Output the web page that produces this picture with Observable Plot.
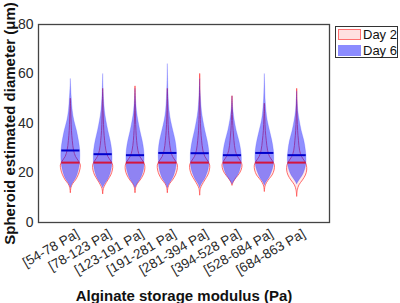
<!DOCTYPE html>
<html>
<head>
<meta charset="utf-8">
<script src="https://cdn.jsdelivr.net/npm/d3@7"></script>
<script src="https://cdn.jsdelivr.net/npm/@observablehq/plot@0.6"></script>
<style>
  html, body { margin: 0; padding: 0; background: #fff; }
  #wrap { position: relative; width: 400px; height: 303px; font-family: "Liberation Sans", Arial, sans-serif; }
  #wrap svg { position: absolute; left: 0; top: 0; }
  g[aria-label="y-axis label"] text, g[aria-label="x-axis label"] text { font-weight: bold; fill: #111; font-size: 15px; }
  #legend { position: absolute; left: 335px; top: 26px; width: 63px; height: 32px; border: 1px solid #333; background: #fff; box-sizing: border-box; font-size: 13px; color: #111; white-space: nowrap; }
  .row { position: absolute; left: 2px; height: 12px; display: flex; align-items: center; white-space: nowrap; }
  .sw { width: 23px; height: 11px; box-sizing: border-box; margin-right: 2px; flex: none; }
</style>
</head>
<body>
<div id="wrap"></div>
<script>
const categories = ["[54-78 Pa]", "[78-123 Pa]", "[123-191 Pa]", "[191-281 Pa]", "[281-394 Pa]", "[394-528 Pa]", "[528-684 Pa]", "[684-863 Pa]"];
const yTicks = [0, 20, 40, 60, 80];
const seriesNames = ["Day 2", "Day 6"];

// mean lines (µm)
const day2Means = [24.2, 24.2, 24.2, 24.2, 24.2, 24.2, 24.2, 24.2];
const day6Means = [29.1, 27.6, 27.2, 28.1, 28.0, 27.2, 28.1, 27.2];

// violin profiles: [diameter µm, half-width (density, in category units)]
const day2Profiles = [
  [[12,0],[14,0.02],[15.5,0.07],[17,0.16],[19.3,0.25],[21,0.29],[23,0.31],[24.5,0.26],[26.5,0.16],[29,0.1],[33,0.06],[37,0.035],[42,0.02],[46,0.01],[50,0]],
  [[11.5,0],[13.5,0.02],[15,0.07],[17,0.16],[19,0.25],[21,0.3],[23,0.31],[24.5,0.26],[26.5,0.16],[29,0.1],[33,0.06],[37,0.035],[42,0.02],[48,0.01],[54,0]],
  [[12,0],[14,0.02],[15.5,0.07],[17,0.16],[19,0.25],[21,0.3],[23,0.3],[24.5,0.25],[26.5,0.15],[29,0.09],[33,0.05],[37,0.03],[42,0.015],[48,0.008],[55,0]],
  [[12,0],[14,0.02],[15.5,0.07],[17,0.16],[19,0.25],[21,0.3],[23,0.31],[24.5,0.26],[26.5,0.16],[29,0.1],[33,0.06],[37,0.035],[42,0.018],[48,0.009],[54,0]],
  [[11,0],[13.5,0.02],[15,0.07],[17,0.16],[19,0.25],[21,0.3],[23,0.31],[24.5,0.26],[26.5,0.16],[29,0.1],[33,0.06],[37,0.035],[43,0.018],[51,0.008],[60,0]],
  [[15,0],[16.5,0.05],[18,0.13],[19.5,0.22],[21,0.28],[23,0.31],[24.5,0.27],[26.5,0.17],[29,0.1],[33,0.06],[37,0.035],[41,0.018],[46,0.008],[51,0]],
  [[12.5,0],[14.5,0.02],[16,0.07],[17.5,0.15],[19,0.24],[21,0.3],[23,0.31],[24.5,0.26],[26.5,0.16],[29,0.1],[33,0.06],[37,0.03],[42,0.015],[48,0]],
  [[10.5,0],[13,0.02],[15,0.07],[17,0.18],[19,0.27],[21,0.31],[23,0.3],[24.5,0.25],[26.5,0.15],[29,0.09],[33,0.055],[37,0.03],[42,0.015],[48,0.008],[54,0]]
];
const day6Profiles = [
  [[14,0],[15.5,0.05],[17.3,0.14],[19,0.2],[21.3,0.25],[25,0.29],[29,0.29],[33,0.25],[37,0.19],[41,0.11],[45,0.06],[50,0.03],[54,0.012],[58,0]],
  [[14,0],[15.5,0.06],[17.3,0.15],[19,0.21],[21.3,0.26],[25,0.29],[29,0.28],[33,0.23],[37,0.16],[41,0.1],[45,0.055],[50,0.025],[55,0.01],[60,0]],
  [[14,0],[15.5,0.06],[17.3,0.15],[19,0.21],[21.3,0.26],[25,0.28],[29,0.27],[33,0.22],[37,0.15],[41,0.09],[45,0.045],[50,0.015],[54,0]],
  [[14,0],[15.5,0.05],[17.3,0.14],[19,0.2],[21.3,0.25],[25,0.28],[29,0.28],[33,0.24],[37,0.17],[41,0.1],[45,0.055],[50,0.028],[56,0.012],[64,0]],
  [[14,0],[15.5,0.05],[17.3,0.14],[19,0.2],[21.3,0.26],[25,0.29],[29,0.28],[33,0.23],[37,0.16],[41,0.1],[45,0.055],[50,0.025],[54,0.01],[58,0]],
  [[15.5,0],[17,0.07],[18.5,0.15],[20,0.21],[22,0.26],[25,0.29],[29,0.27],[33,0.21],[37,0.13],[41,0.07],[45,0.03],[48,0.012],[51,0]],
  [[15,0],[16.5,0.06],[18,0.14],[20,0.21],[22,0.26],[25,0.29],[29,0.28],[33,0.23],[37,0.16],[41,0.09],[45,0.05],[50,0.022],[55,0.01],[60,0]],
  [[15.5,0],[17,0.07],[18.5,0.15],[20,0.21],[22,0.26],[25,0.29],[29,0.27],[33,0.22],[37,0.14],[41,0.08],[45,0.035],[49,0.014],[53,0]]
];

function rows(profiles) {
  return profiles.flatMap((p, i) => p.map(([y, w]) => ({cat: i + 1, y, x1: i + 1 - w, x2: i + 1 + w})));
}
const d2 = rows(day2Profiles);
const d6 = rows(day6Profiles);
const m2 = day2Means.map((v, i) => ({cat: i + 1, y: v}));
const m6 = day6Means.map((v, i) => ({cat: i + 1, y: v}));

const chart = Plot.plot({
  width: 400,
  height: 303,
  marginLeft: 38,
  marginTop: 24,
  marginRight: 71,
  marginBottom: 81,
  style: {fontFamily: "Liberation Sans, Arial, sans-serif", fontSize: "13px", color: "#2a2a2a", background: "white"},
  x: {domain: [0, categories.length + 1]},
  y: {domain: [0, 80]},
  marks: [
    Plot.areaX(d2, {y: "y", x1: "x1", x2: "x2", z: "cat", fill: "#ffd6d6", fillOpacity: 0.5, stroke: "#ff4a4a", strokeWidth: 0.9, strokeOpacity: 0.9, curve: "catmull-rom"}),
    Plot.areaX(d6, {y: "y", x1: "x1", x2: "x2", z: "cat", fill: "#0000ff", fillOpacity: 0.44, stroke: "#3030ff", strokeWidth: 0.6, strokeOpacity: 0.35, curve: "catmull-rom"}),
    Plot.ruleY(m6, {y: "y", x1: d => d.cat - 0.28, x2: d => d.cat + 0.28, stroke: "#0000cc", strokeWidth: 2}),
    Plot.ruleY(m2, {y: "y", x1: d => d.cat - 0.28, x2: d => d.cat + 0.28, stroke: "#d4153c", strokeWidth: 2}),
    Plot.axisY({ticks: yTicks, tickSize: 0, tickPadding: 5, fontSize: 14, label: "Spheroid estimated diameter (μm)", labelAnchor: "center", labelArrow: "none", labelOffset: 34}),
    Plot.axisX({ticks: categories.map((_, i) => i + 1), tickFormat: d => categories[d - 1], tickSize: 0, tickPadding: 4, tickRotate: -30, fontSize: 13.5, dx: 7, dy: 6}),
    Plot.axisX({ticks: [], tickSize: 0, label: "Alginate storage modulus (Pa)", labelAnchor: "center", labelArrow: "none", labelOffset: 78}),
    Plot.frame({stroke: "#444", strokeWidth: 1.3})
  ]
});
const wrap = document.getElementById("wrap");
wrap.appendChild(chart);
const lg = document.createElement("div");
lg.id = "legend";
lg.innerHTML = `<div class="row" style="top:1px"><div class="sw" style="background:#ffe0e0;border:1px solid #ff7070"></div>${seriesNames[0]}</div>
<div class="row" style="top:17px"><div class="sw" style="background:#8c8cff"></div>${seriesNames[1]}</div>`;
wrap.appendChild(lg);
</script>
</body>
</html>
